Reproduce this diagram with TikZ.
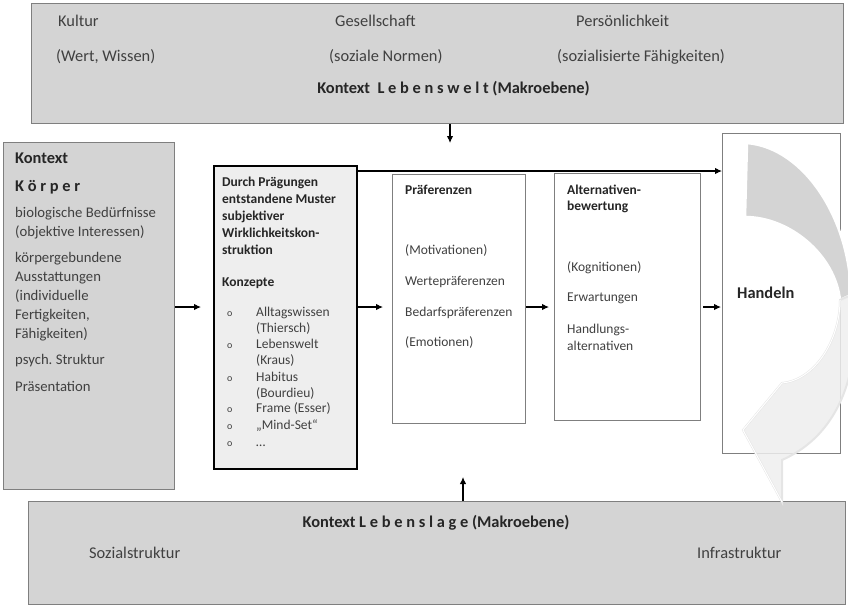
\documentclass[tikz,border=0pt]{standalone}
\usepackage{fontspec}
\setmainfont{Carlito}
\usetikzlibrary{arrows.meta}
\definecolor{kastengrau}{HTML}{D4D4D4}
\definecolor{randgrau}{HTML}{7F7F7F}
\definecolor{schrift}{HTML}{404040}
\definecolor{hellgrau}{HTML}{EEEEEE}
\frenchspacing

\begin{document}
\begin{tikzpicture}[x=1pt, y=-1pt,
  kasten/.style = {shape=rectangle, draw=randgrau, line width=1.3pt,
    anchor=north west, inner sep=0pt, fill=white},
  txt/.style = {anchor=base west, inner sep=0pt, text=schrift,
    font=\fontsize{13.5}{16}\selectfont},
  mittel/.style = {txt, font=\fontsize{14.7}{17}\selectfont},
  fett/.style = {txt, text=black!85, font=\fontsize{13.5}{16}\selectfont\bfseries},
  gross/.style = {txt, font=\fontsize{16.4}{19}\selectfont},
  grossfett/.style = {txt, text=black!85, font=\fontsize{16.4}{19}\selectfont\bfseries},
  punkt/.style = {txt, font=\fontsize{10}{12}\selectfont},
  pfeil/.style = {-{Latex[length=7pt,width=6.5pt]}, line width=1.1pt}]
  \useasboundingbox (0,0) rectangle (848,606);
  \clip (0,0) rectangle (848,606);

  % Kaesten
  \node[kasten, fill=kastengrau, minimum width=812pt, minimum height=120pt] (welt) at (31,3) {};
  \node[kasten, fill=kastengrau, minimum width=171pt, minimum height=347pt] (koerper) at (3,142) {};
  \node[kasten, fill=hellgrau, draw=black, line width=2pt,
    minimum width=143pt, minimum height=303pt] (muster) at (213,165) {};
  \node[kasten, minimum width=133pt, minimum height=249pt] (praef) at (392,174) {};
  \node[kasten, minimum width=146pt, minimum height=247pt] (alt) at (554,173) {};
  \node[kasten, minimum width=118pt, minimum height=320pt] (handeln) at (722,133) {};
  \node[kasten, fill=kastengrau, minimum width=817pt, minimum height=103pt] (lage) at (28,501) {};

  % Pfeile
  \coordinate (oben) at (450,143);
  \coordinate (unten) at (463,477);
  \draw[pfeil] (oben |- welt.south) -- (oben);
  \draw[pfeil] (unten |- lage.north) -- (unten);
  \draw[pfeil] (muster.east |- 0,171) -- (handeln.west |- 0,171);
  \draw[pfeil] (koerper.east |- 0,307) -- ([xshift=-12pt]muster.west |- 0,307);
  \draw[pfeil] (muster.east |- 0,307) -- ([xshift=-9pt]praef.west |- 0,307);
  \draw[pfeil] (praef.east |- 0,307) -- ([xshift=-5pt]alt.west |- 0,307);
  \draw[pfeil] ([xshift=2pt]alt.east |- 0,307) -- ([xshift=-1pt]handeln.west |- 0,307);

  % Lebenswelt
  \node[gross] (kultur) at (58,26.5) {Kultur};
  \node[gross] (gesell) at (335,26.5) {Gesellschaft};
  \node[gross] (persoen) at (576,26.5) {Persönlichkeit};
  \node[gross] (wissen) at (56,61) {(Wert, Wissen)};
  \node[gross] (normen) at (329,61) {(soziale Normen)};
  \node[gross] (faehig) at (557,61) {(sozialisierte Fähigkeiten)};
  \node[grossfett, anchor=base] (weltlabel) at (453.5,93) {Kontext \ L e b e n s w e l t (Makroebene)};

  % Koerper
  \node[grossfett] (kontext) at (15,163.5) {Kontext};
  \node[grossfett] (koerperlabel) at (15,191.5) {K ö r p e r};
  \foreach \y/\t [count=\i] in {217/biologische Bedürfnisse, 236/(objektive Interessen),
      262/körpergebundene, 281/Ausstattungen, 300/(individuelle,
      319/{Fertigkeiten,}, 338/Fähigkeiten), 364/psych. Struktur, 391/Präsentation}
    \node[mittel] (koerper-\i) at (15,\y) {\t};

  % Muster
  \foreach \y/\t [count=\i] in {186.5/Durch Prägungen, 203.5/entstandene Muster,
      220.5/subjektiver, 237.5/Wirklichkeitskon-, 254.5/struktion, 286.5/Konzepte}
    \node[fett] (muster-\i) at (222,\y) {\t};
  \foreach \y/\t [count=\i] in {316.5/Alltagswissen, 332.5/(Thiersch), 348.5/Lebenswelt,
      364.5/(Kraus), 381.5/Habitus, 397.5/(Bourdieu), 412.5/Frame (Esser),
      429.5/„Mind-Set“, 446.5/…}
    \node[txt] (konzept-\i) at (256,\y) {\t};
  \foreach \y [count=\i] in {316.5, 348.5, 381.5, 412.5, 429.5, 446.5}
    \node[punkt] (punkt-\i) at (227,\y) {o};

  % Praeferenzen
  \node[fett] (praeflabel) at (405,194.5) {Präferenzen};
  \foreach \y/\t [count=\i] in {254.5/(Motivationen), 285.5/Wertepräferenzen,
      316.5/Bedarfspräferenzen, 346.5/(Emotionen)}
    \node[txt] (praef-\i) at (405,\y) {\t};

  % Alternativenbewertung
  \node[fett] (altlabel-1) at (567,194.5) {Alternativen-};
  \node[fett] (altlabel-2) at (567,210.5) {bewertung};
  \foreach \y/\t [count=\i] in {271.5/(Kognitionen), 301.5/Erwartungen,
      333.5/Handlungs-, 350.5/alternativen}
    \node[txt] (alt-\i) at (567,\y) {\t};

  \node[grossfett] (handelnlabel) at (737,298.5) {Handeln};

  % Lebenslage
  \node[grossfett, anchor=base] (lagelabel) at (436,527) {Kontext L e b e n s l a g e (Makroebene)};
  \node[gross] (sozial) at (89,558) {Sozialstruktur};
  \node[gross] (infra) at (697,558) {Infrastruktur};

  % gebogener Pfeil
  \draw[white, line width=2.5pt, fill=kastengrau] (747,143)
    .. controls (805,148) and (850,220) .. (851,295) -- (840,300)
    .. controls (835,255) and (790,217) .. (745,217) -- cycle;
  \draw[gray!20, line width=2pt, fill=hellgrau, fill opacity=0.85] (851,295)
    .. controls (862,350) and (850,430) .. (782,460) -- (782,502) -- (743,430) -- (782,383)
    .. controls (815,380) and (840,340) .. (840,300) -- cycle;
  \draw[white, line width=1pt] (782,502) -- (743,430) -- (782,383)
    .. controls (815,380) and (840,340) .. (840,300);
\end{tikzpicture}
\end{document}
